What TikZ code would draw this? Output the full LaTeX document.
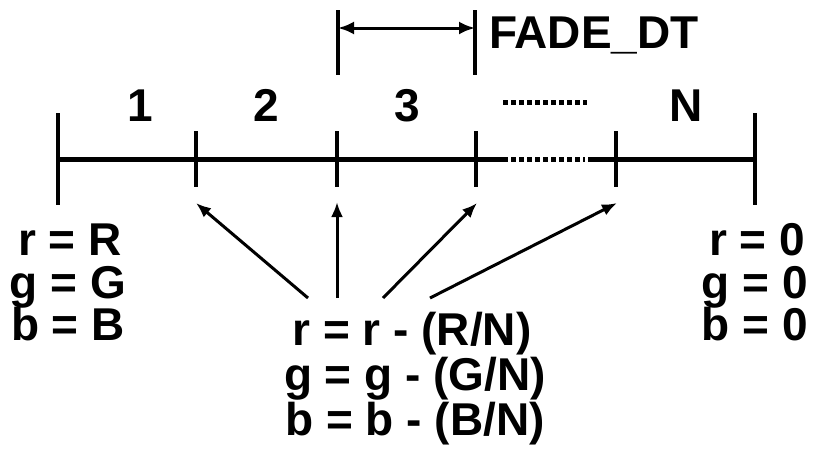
\documentclass[tikz,border=0pt]{standalone}
\usepackage{fontspec}
\setmainfont{Liberation Sans}
\usetikzlibrary{arrows.meta}
\begin{document}
\begin{tikzpicture}[x=1pt,y=-1pt,
  lbl/.style={font=\fontsize{46}{46}\selectfont\bfseries, inner sep=0pt, anchor=base},
  axis/.style={line width=5pt},
  tick/.style={line width=3.5pt},
  dots/.style={line width=5pt, dash pattern=on 5pt off 3pt},
  ptr/.style={line width=3pt, -{Latex[length=15pt,width=12pt]}}]
\useasboundingbox (0,0) rectangle (814,472);
% tick coordinates
\coordinate (tt0) at (58,113);  \coordinate (tb0) at (58,205);
\coordinate (tt1) at (196,131); \coordinate (tb1) at (196,187);
\coordinate (tt2) at (337,131); \coordinate (tb2) at (337,187);
\coordinate (tt3) at (476,131); \coordinate (tb3) at (476,187);
\coordinate (tt4) at (616,131); \coordinate (tb4) at (616,187);
\coordinate (tt5) at (755,113); \coordinate (tb5) at (755,205);
% arrow tip targets (just below the short ticks)
\coordinate (p1) at (196,203);
\coordinate (p2) at (337,202);
\coordinate (p3) at (477,203);
\coordinate (p4) at (617,203);
\coordinate (a0) at (58,159);
\coordinate (a1) at (508,159);
\coordinate (a2) at (511,159);
\coordinate (a3) at (585,159);
\coordinate (a4) at (588,159);
\coordinate (a5) at (755,159);
% axis
\draw[axis] (a0) -- (a1);
\draw[dots] (a2) -- (a3);
\draw[axis] (a4) -- (a5);
\foreach \n in {0,...,5}{\draw[tick] (tt\n) -- (tb\n);}
% bracket
\coordinate (bl1) at (338,10); \coordinate (bl2) at (338,75);
\coordinate (br1) at (475,10); \coordinate (br2) at (475,75);
\coordinate (bal) at (338,28); \coordinate (bar) at (475,28);
\draw[tick] (bl1) -- (bl2);
\draw[tick] (br1) -- (br2);
\draw[line width=3pt, {Latex[length=16pt,width=13pt]}-{Latex[length=16pt,width=13pt]}] (bal) -- (bar);
\node[lbl, anchor=base west] (fade) at (489,48) {FADE\_DT};
% segment labels
\node[lbl] (n1) at (140,121) {1};
\node[lbl] (n2) at (266,121) {2};
\node[lbl] (n3) at (407,121) {3};
\node[lbl] (nN) at (686,121) {N};
\coordinate (d1) at (503,102); \coordinate (d2) at (587,102);
\draw[dots] (d1) -- (d2);
% left / right values
\node[lbl] (lr) at (70,255) {r = R};
\node[lbl] (lg) at (68,298) {g = G};
\node[lbl] (lb) at (68,340) {b = B};
\node[lbl] (rr) at (757,255) {r = 0};
\node[lbl] (rg) at (755,298) {g = 0};
\node[lbl] (rb) at (755,340) {b = 0};
% centre formulas
\node[lbl] (cr) at (412,345) {r = r - (R/N)};
\node[lbl] (cg) at (415,390) {g = g - (G/N)};
\node[lbl] (cb) at (415,435) {b = b - (B/N)};
% pointers
\coordinate (s1) at (308,298);
\coordinate (s2) at (337,298);
\coordinate (s3) at (383,298);
\coordinate (s4) at (430,298);
\draw[ptr] (s1) -- (p1);
\draw[ptr] (s2) -- (p2);
\draw[ptr] (s3) -- (p3);
\draw[ptr] (s4) -- (p4);
\end{tikzpicture}
\end{document}
